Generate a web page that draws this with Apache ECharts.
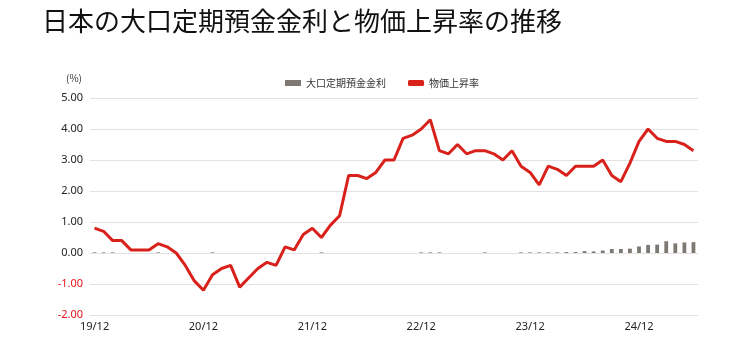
<!DOCTYPE html>
<html>
<head>
<meta charset="utf-8">
<script src="https://cdn.jsdelivr.net/npm/echarts@6/dist/echarts.min.js"></script>
<style>
  html, body { margin: 0; padding: 0; background: #fff; }
  #chart { width: 750px; height: 345px; }
</style>
</head>
<body>
<div id="chart"></div>
<script>
// Months from 2019/12 to 2025/06 (yy/mm)
const months = [
  '19/12',
  '20/01','20/02','20/03','20/04','20/05','20/06','20/07','20/08','20/09','20/10','20/11','20/12',
  '21/01','21/02','21/03','21/04','21/05','21/06','21/07','21/08','21/09','21/10','21/11','21/12',
  '22/01','22/02','22/03','22/04','22/05','22/06','22/07','22/08','22/09','22/10','22/11','22/12',
  '23/01','23/02','23/03','23/04','23/05','23/06','23/07','23/08','23/09','23/10','23/11','23/12',
  '24/01','24/02','24/03','24/04','24/05','24/06','24/07','24/08','24/09','24/10','24/11','24/12',
  '25/01','25/02','25/03','25/04','25/05','25/06'
];

// Large-lot time deposit rate (%)
const depositRate = [
  0.02,
  0.02,0.02,0,0,0,0,0.02,0,0,0,0,0,
  0.02,0,0,0,0,0,0,0,0,0,0,0,
  0.02,0,0,0,0,0,0,0,0,0,0,0.02,
  0.02,0.02,0,0,0,0,0.02,0,0,0,0.02,0.02,
  0.02,0.02,0.02,0.03,0.03,0.06,0.05,0.08,0.13,0.13,0.14,0.21,
  0.26,0.27,0.38,0.31,0.34,0.35
];

// Consumer price inflation, year on year (%)
const inflation = [
  0.8,
  0.7,0.4,0.4,0.1,0.1,0.1,0.3,0.2,0.0,-0.4,-0.9,-1.2,
  -0.7,-0.5,-0.4,-1.1,-0.8,-0.5,-0.3,-0.4,0.2,0.1,0.6,0.8,
  0.5,0.9,1.2,2.5,2.5,2.4,2.6,3.0,3.0,3.7,3.8,4.0,
  4.3,3.3,3.2,3.5,3.2,3.3,3.3,3.2,3.0,3.3,2.8,2.6,
  2.2,2.8,2.7,2.5,2.8,2.8,2.8,3.0,2.5,2.3,2.9,3.6,
  4.0,3.7,3.6,3.6,3.5,3.3
];

const yMin = -2, yMax = 5, yStep = 1;
const titleText = '日本の大口定期預金金利と物価上昇率の推移';
const unitText = '(%)';
const seriesNames = ['大口定期預金金利', '物価上昇率'];

const chart = echarts.init(document.getElementById('chart'), null, { renderer: 'canvas' });

chart.setOption({
  animation: false,
  backgroundColor: '#ffffff',
  textStyle: { fontFamily: '"Noto Sans CJK JP", "Noto Sans", sans-serif' },
  title: {
    text: titleText,
    left: 37,
    top: 3,
    textStyle: {
      fontSize: 26,
      fontWeight: 'normal',
      color: '#111111',
      fontFamily: '"Noto Sans CJK JP", sans-serif'
    }
  },
  graphic: [{
    type: 'text',
    left: 66,
    top: 73,
    style: {
      text: unitText,
      fontSize: 10,
      fill: '#333333',
      fontFamily: '"Noto Sans CJK JP", sans-serif'
    }
  }],
  legend: {
    left: 280,
    top: 73,
    itemGap: 22,
    itemWidth: 16,
    itemHeight: 6,
    textStyle: { fontSize: 10, color: '#333333', fontFamily: '"Noto Sans CJK JP", sans-serif' },
    data: [
      { name: seriesNames[0], icon: 'rect' },
      { name: seriesNames[1], icon: 'roundRect', itemStyle: { color: '#d9211b' } }
    ]
  },
  grid: {
    left: 90,
    right: 52,
    top: 98,
    bottom: 30,
    containLabel: false
  },
  xAxis: {
    type: 'category',
    data: months,
    boundaryGap: true,
    axisLine: { show: false },
    axisTick: { show: false },
    axisLabel: {
      interval: 11,
      fontSize: 11,
      color: '#222222',
      margin: 6,
      fontFamily: '"Noto Sans", sans-serif'
    },
    splitLine: { show: false }
  },
  yAxis: {
    type: 'value',
    min: yMin,
    max: yMax,
    interval: yStep,
    axisLine: { show: false },
    axisTick: { show: false },
    axisLabel: {
      fontSize: 11,
      margin: 7,
      fontFamily: '"Noto Sans", sans-serif',
      formatter: v => v.toFixed(2),
      color: v => (Number(v) < 0 ? '#e8141b' : '#222222')
    },
    splitLine: { lineStyle: { color: '#e2e2e2', width: 1 } }
  },
  series: [
    {
      name: seriesNames[0],
      type: 'bar',
      data: depositRate,
      barWidth: '42%',
      itemStyle: { color: '#7d7872' }
    },
    {
      name: seriesNames[1],
      type: 'line',
      data: inflation,
      symbol: 'none',
      lineStyle: { color: '#d9211b', width: 3 },
      itemStyle: { color: '#d9211b' },
      z: 3
    }
  ]
});
</script>
</body>
</html>
